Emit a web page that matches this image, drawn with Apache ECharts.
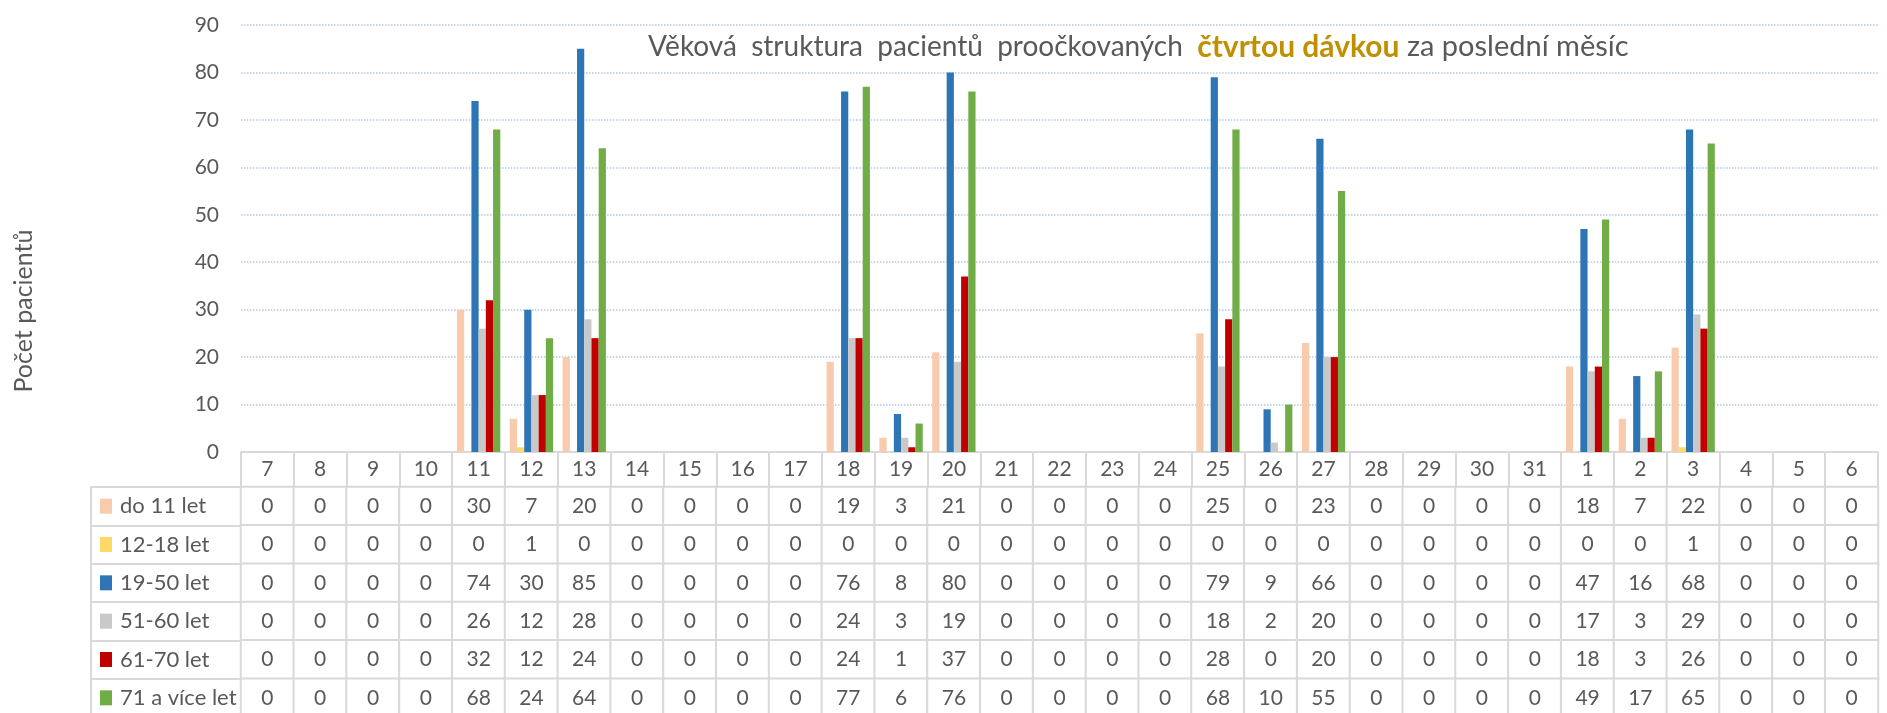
<!DOCTYPE html>
<html>
<head>
<meta charset="utf-8">
<script src="https://cdn.jsdelivr.net/npm/echarts@6/dist/echarts.min.js"></script>
<style>
  html, body { margin: 0; padding: 0; background: #fff; }
  #chart { width: 1887px; height: 713px; }
</style>
</head>
<body>
<div id="chart"></div>
<script>
// dny (posledni mesic)
var days = ['7','8','9','10','11','12','13','14','15','16','17','18','19','20','21','22','23','24','25','26','27','28','29','30','31','1','2','3','4','5','6'];
var groups = ['do 11 let', '12-18 let', '19-50 let', '51-60 let', '61-70 let', '71 a více let'];
var groupColors = ['#F8CBAD', '#FFD966', '#2E75B6', '#C9C9C9', '#C00000', '#70AD47'];

var do11   = [0,0,0,0,30,7,20,0,0,0,0,19,3,21,0,0,0,0,25,0,23,0,0,0,0,18,7,22,0,0,0];
var v12_18 = [0,0,0,0,0,1,0,0,0,0,0,0,0,0,0,0,0,0,0,0,0,0,0,0,0,0,0,1,0,0,0];
var v19_50 = [0,0,0,0,74,30,85,0,0,0,0,76,8,80,0,0,0,0,79,9,66,0,0,0,0,47,16,68,0,0,0];
var v51_60 = [0,0,0,0,26,12,28,0,0,0,0,24,3,19,0,0,0,0,18,2,20,0,0,0,0,17,3,29,0,0,0];
var v61_70 = [0,0,0,0,32,12,24,0,0,0,0,24,1,37,0,0,0,0,28,0,20,0,0,0,0,18,3,26,0,0,0];
var v71    = [0,0,0,0,68,24,64,0,0,0,0,77,6,76,0,0,0,0,68,10,55,0,0,0,0,49,17,65,0,0,0];
var rows = [do11, v12_18, v19_50, v51_60, v61_70, v71];

var yTicks = { min: 0, max: 90, interval: 10 };

var FONT = 'Lato';
var TXT = '#595959';
var BORDER = '#D9D9D9';

// bunky tabulky pod grafem
var cells = [];
rows.forEach(function (r, ri) {
  r.forEach(function (v, di) { cells.push([di, ri, v]); });
});

// legenda v tabulce - barevny ctverecek
var rich = { t: { fontSize: 22, color: TXT, fontFamily: FONT, padding: [0, 0, 0, 8] } };
groups.forEach(function (g, i) {
  rich['s' + i] = { backgroundColor: groupColors[i], width: 12, height: 15 };
});

var barSeries = rows.map(function (r, i) {
  return {
    name: groups[i],
    type: 'bar',
    xAxisIndex: 0,
    yAxisIndex: 0,
    data: r,
    barGap: '0%',
    barCategoryGap: '18%',
    itemStyle: { color: groupColors[i] },
    emphasis: { disabled: true }
  };
});

var chart = echarts.init(document.getElementById('chart'), null, { renderer: 'canvas' });
var option = {
  animation: false,
  textStyle: { fontFamily: FONT },
  title: {
    text: '{a|Věková  struktura  pacientů  proočkovaných  }{b|čtvrtou dávkou}{c| za poslední měsíc}',
    left: 643,
    top: 27,
    textStyle: {
      fontWeight: 'normal',
      rich: {
        a: { fontSize: 28, color: TXT, fontFamily: FONT, fontWeight: 'normal' },
        b: { fontSize: 30, color: '#BF9000', fontWeight: 'bold', fontFamily: FONT },
        c: { fontSize: 29, color: TXT, fontFamily: FONT, fontWeight: 'normal' }
      }
    }
  },
  grid: [
    { left: 241, right: 9, top: 25, bottom: 261, outerBoundsMode: 'none' },
    { left: 241, right: 9, top: 487, height: 230, outerBoundsMode: 'none' }
  ],
  xAxis: [
    {
      type: 'category',
      gridIndex: 0,
      data: days,
      axisLine: { lineStyle: { color: BORDER, width: 2 } },
      axisTick: { show: true, length: 35, interval: 0, lineStyle: { color: BORDER, width: 2 } },
      axisLabel: { interval: 0, margin: 7, fontSize: 21, color: TXT, fontFamily: FONT }
    },
    {
      type: 'category',
      gridIndex: 1,
      data: days,
      show: false
    }
  ],
  yAxis: [
    {
      type: 'value',
      gridIndex: 0,
      min: yTicks.min,
      max: yTicks.max,
      interval: yTicks.interval,
      axisLine: { show: false },
      axisTick: { show: false },
      axisLabel: { margin: 22, fontSize: 21, color: TXT, fontFamily: FONT },
      splitLine: { lineStyle: { color: '#B4C7E7', type: 'dotted', width: 1.5 } }
    },
    {
      type: 'category',
      gridIndex: 1,
      data: groups,
      inverse: true,
      axisLine: { show: true, lineStyle: { color: BORDER, width: 2 } },
      axisTick: { show: true, length: 150, interval: 0, lineStyle: { color: BORDER, width: 2 } },
      axisLabel: {
        margin: 141,
        align: 'left',
        interval: 0,
        formatter: function (val, idx) { return '{s' + idx + '|}{t|' + val + '}'; },
        rich: rich
      }
    },
    {
      type: 'category',
      gridIndex: 1,
      data: groups,
      position: 'left',
      offset: 150,
      axisLine: { show: true, lineStyle: { color: BORDER, width: 2 } },
      axisTick: { show: false },
      axisLabel: { show: false }
    }
  ],
  graphic: [
    {
      type: 'text',
      x: 24,
      y: 311,
      rotation: Math.PI / 2,
      style: {
        text: 'Počet pacientů',
        fontSize: 25,
        fontFamily: FONT,
        fill: TXT,
        align: 'center',
        verticalAlign: 'middle'
      }
    }
  ],
  series: barSeries.concat([
    {
      type: 'heatmap',
      xAxisIndex: 1,
      yAxisIndex: 1,
      data: cells,
      itemStyle: { color: '#ffffff', borderColor: BORDER, borderWidth: 2 },
      label: {
        show: true,
        fontSize: 21,
        color: TXT,
        fontFamily: FONT,
        formatter: function (p) { return p.value[2]; }
      },
      emphasis: { disabled: true }
    }
  ])
};
chart.setOption(option);
</script>
</body>
</html>
